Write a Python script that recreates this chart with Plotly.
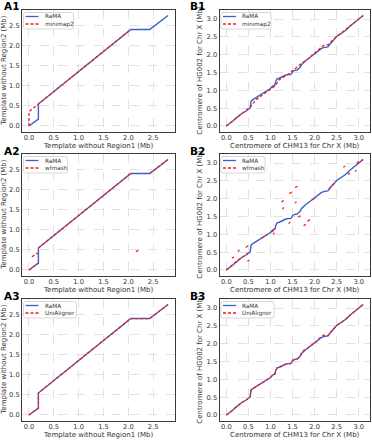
import plotly.graph_objects as go

# ---------------- data (Mb) ----------------
# A panels: template without Region1 (x) vs template without Region2 (y)
rama_a_x = [0.0, 0.19, 0.19, 2.05, 2.43, 2.80]
rama_a_y = [0.0, 0.17, 0.55, 2.41, 2.41, 2.76]

minimap2_a_x = [0.0, 0.0, 0.19, 2.05]
minimap2_a_y = [0.0, 0.36, 0.55, 2.41]

wfmash_a_x = [0.0, 0.19, None, 0.06, 0.185, None, 0.19, 2.05, None, 2.43, 2.80, None, 2.15, 2.24]
wfmash_a_y = [0.0, 0.17, None, 0.33, 0.43, None, 0.55, 2.41, None, 2.41, 2.76, None, 0.46, 0.51]

unialigner_a_x = [0.0, 0.19, 0.19, 2.05, 2.43, 2.80]
unialigner_a_y = [0.0, 0.17, 0.55, 2.41, 2.41, 2.76]

# B panels: centromere of CHM13 chrX (x) vs HG002 chrX (y)
rama_b_x = [0.0, 0.05, 0.10, 0.15, 0.20, 0.25, 0.30, 0.35, 0.40, 0.45, 0.50, 0.54, 0.55, 0.56,
            0.60, 0.65, 0.70, 0.80, 0.90, 1.00, 1.05, 1.10, 1.12, 1.15, 1.20, 1.25, 1.30, 1.35,
            1.40, 1.45, 1.48, 1.50, 1.55, 1.60, 1.65, 1.68, 1.70, 1.75, 1.80, 1.90, 2.00, 2.05,
            2.10, 2.15, 2.20, 2.25, 2.30, 2.35, 2.40, 2.45, 2.50, 2.55, 2.60, 2.70, 2.80, 2.90,
            3.00, 3.05, 3.10]
rama_b_y = [0.0, 0.04, 0.10, 0.14, 0.20, 0.26, 0.30, 0.35, 0.38, 0.42, 0.47, 0.50, 0.60, 0.70,
            0.74, 0.78, 0.82, 0.90, 0.98, 1.05, 1.12, 1.15, 1.25, 1.32, 1.34, 1.37, 1.41, 1.43,
            1.44, 1.44, 1.47, 1.53, 1.56, 1.57, 1.62, 1.66, 1.72, 1.79, 1.84, 1.93, 2.03, 2.07,
            2.14, 2.17, 2.20, 2.21, 2.22, 2.30, 2.36, 2.44, 2.51, 2.55, 2.59, 2.68, 2.80, 2.90,
            3.00, 3.05, 3.10]

minimap2_b_x = [0.0, 0.30, 0.50, 0.55, 0.60, 0.65, 1.00, 1.10, 1.20, 1.40, 1.60, 1.70, 1.75,
                1.80, 2.00, 2.10, 2.20, 2.30, 2.50, 2.80, 3.10]
minimap2_b_y = [0.0, 0.30, 0.49, 0.54, 0.62, 0.72, 1.03, 1.12, 1.30, 1.45, 1.65, 1.76, 1.80,
                1.83, 2.03, 2.15, 2.26, 2.28, 2.51, 2.81, 3.10]

wfmash_b_x = [0.0, 0.25, 0.50, None, 0.80, 0.92, None, 1.02, 1.12, None, 1.95, 2.05, None,
              2.32, 2.45, None, 2.95, 3.10, None, 0.13, 0.17, None, 0.26, 0.30, None, 0.44, 0.49,
              None, 0.48, 0.52, None, 1.06, 1.09, None, 1.25, 1.30, None, 1.27, 1.30, None,
              1.43, 1.48, None, 1.56, 1.61, None, 1.55, 1.59, None, 1.41, 1.45, None, 1.63, 1.68,
              None, 1.75, 1.80, None, 1.84, 1.90, None, 2.65, 2.69, None, 2.76, 2.80, None,
              2.92, 2.95]
wfmash_b_y = [0.0, 0.26, 0.48, None, 0.89, 0.99, None, 1.06, 1.16, None, 1.97, 2.06, None,
              2.27, 2.44, None, 3.00, 3.10, None, 0.33, 0.37, None, 0.52, 0.56, None, 0.63, 0.68,
              None, 0.24, 0.28, None, 1.00, 1.04, None, 1.91, 1.95, None, 1.71, 1.76, None,
              2.14, 2.19, None, 2.31, 2.35, None, 1.88, 1.91, None, 1.30, 1.35, None, 1.48, 1.52,
              None, 1.24, 1.28, None, 1.37, 1.42, None, 2.88, 2.92, None, 2.68, 2.72, None,
              2.76, 2.80]

unialigner_b_x = rama_b_x[:]
unialigner_b_y = [0.0, 0.04, 0.10, 0.14, 0.20, 0.26, 0.30, 0.35, 0.38, 0.42, 0.47, 0.50, 0.62, 0.70,
                  0.74, 0.78, 0.82, 0.90, 0.98, 1.05, 1.12, 1.15, 1.26, 1.32, 1.34, 1.37, 1.41, 1.43,
                  1.44, 1.44, 1.48, 1.53, 1.56, 1.57, 1.62, 1.66, 1.74, 1.81, 1.84, 1.93, 2.03, 2.07,
                  2.14, 2.18, 2.24, 2.23, 2.22, 2.30, 2.36, 2.44, 2.51, 2.55, 2.59, 2.68, 2.80, 2.90,
                  3.00, 3.05, 3.10]

ticks_a = [0.0, 0.5, 1.0, 1.5, 2.0, 2.5]
ticks_b = [0.0, 0.5, 1.0, 1.5, 2.0, 2.5, 3.0]

xtitle_a = "Template without Region1 (Mb)"
ytitle_a = "Template without Region2 (Mb)"
xtitle_b = "Centromere of CHM13 for Chr X (Mb)"
ytitle_b = "Centromere of HG002 for Chr X (Mb)"

# ---------------- layout helpers ----------------
W, H = 372, 440
def px(x):
    return x / W
def py(y):
    return 1 - y / H

BLUE = "#3a5fcd"
RED = "#f41d1d"
TXT = "#333333"
FONT = "DejaVu Sans"

cols = {"A": (22.0, 175.0), "B": (219.5, 370.0)}
row_tops = [10.0, 154.0, 299.0]
ROW_H = 121.5

panels = [
    ("A1", "A", 0, (rama_a_x, rama_a_y), (minimap2_a_x, minimap2_a_y), "minimap2"),
    ("B1", "B", 0, (rama_b_x, rama_b_y), (minimap2_b_x, minimap2_b_y), "minimap2"),
    ("A2", "A", 1, (rama_a_x, rama_a_y), (wfmash_a_x, wfmash_a_y), "wfmash"),
    ("B2", "B", 1, (rama_b_x, rama_b_y), (wfmash_b_x, wfmash_b_y), "wfmash"),
    ("A3", "A", 2, (rama_a_x, rama_a_y), (unialigner_a_x, unialigner_a_y), "UniAligner"),
    ("B3", "B", 2, (rama_b_x, rama_b_y), (unialigner_b_x, unialigner_b_y), "UniAligner"),
]

legend_w = {"minimap2": 50, "wfmash": 44, "UniAligner": 53}

fig = go.Figure()
layout = dict(
    width=W, height=H,
    margin=dict(l=0, r=0, t=0, b=0),
    paper_bgcolor="white", plot_bgcolor="white",
    showlegend=False,
    font=dict(family=FONT, color=TXT),
)
annotations = []
shapes = []

def rrect(x0, y0, x1, y1, r):
    X0, X1 = px(x0), px(x1)
    Y0, Y1 = py(y0), py(y1)
    rx, ry = r / W, r / H
    return (f"M {X0+rx},{Y0} L {X1-rx},{Y0} Q {X1},{Y0} {X1},{Y0-ry} "
            f"L {X1},{Y1+ry} Q {X1},{Y1} {X1-rx},{Y1} L {X0+rx},{Y1} "
            f"Q {X0},{Y1} {X0},{Y1+ry} L {X0},{Y0-ry} Q {X0},{Y0} {X0+rx},{Y0} Z")

TICK_FS = 6.7
TITLE_FS = 7.0
for i, (label, col, row, rama, other, oname) in enumerate(panels):
    n = "" if i == 0 else str(i + 1)
    L, R = cols[col]
    T = row_tops[row]
    B = T + ROW_H
    if col == "A":
        xr = [-0.14, 2.94]
        yr = [-0.138, 2.898]
        tv = ticks_a
        xt, yt = xtitle_a, ytitle_a
        ytx = 4.0
    else:
        xr = [-0.155, 3.255]
        yr = [-0.155, 3.255]
        tv = ticks_b
        xt, yt = xtitle_b, ytitle_b
        ytx = 200.0

    fig.add_trace(go.Scatter(x=rama[0], y=rama[1], mode="lines", name="RaMA",
                             line=dict(color=BLUE, width=1.4),
                             xaxis="x" + n, yaxis="y" + n, connectgaps=False))
    fig.add_trace(go.Scatter(x=other[0], y=other[1], mode="lines", name=oname,
                             line=dict(color=RED, width=1.3, dash="3px,2px"),
                             xaxis="x" + n, yaxis="y" + n, connectgaps=False))

    common = dict(showgrid=True, gridcolor="#e2e2e2", gridwidth=0.6, griddash="dash",
                  showline=True, mirror=True, linecolor="#3a3a3a", linewidth=0.8,
                  ticks="", tickfont=dict(size=TICK_FS, color=TXT, family=FONT), zeroline=False,
                  tickmode="array", tickvals=tv, ticktext=[f"{v:.1f}" for v in tv],
                  automargin=False, fixedrange=True)
    layout["xaxis" + n] = dict(domain=[px(L), px(R)], anchor="y" + n, range=xr, **common)
    layout["yaxis" + n] = dict(domain=[py(B), py(T)], anchor="x" + n, range=yr, **common)

    # axis titles
    annotations.append(dict(text=xt, x=px((L + R) / 2), y=py(B + 14.8), xref="paper", yref="paper",
                            showarrow=False, xanchor="center", yanchor="middle",
                            font=dict(size=TITLE_FS, color=TXT, family=FONT)))
    annotations.append(dict(text=yt, x=px(ytx), y=py((T + B) / 2), xref="paper", yref="paper",
                            showarrow=False, xanchor="center", yanchor="middle", textangle=-90,
                            font=dict(size=TITLE_FS, color=TXT, family=FONT)))
    # panel label
    lx = 2.0 if col == "A" else 188.0
    annotations.append(dict(text=f"<b>{label}</b>", x=px(lx), y=py(T - 3.5), xref="paper",
                            yref="paper", showarrow=False, xanchor="left", yanchor="middle",
                            font=dict(size=10.5, color="black", family=FONT)))

    # legend box
    bx0, by0 = L + 1.5, T + 2.5
    bx1, by1 = bx0 + legend_w[oname], T + 19.0
    shapes.append(dict(type="path", path=rrect(bx0, by0, bx1, by1, 2.0), xref="paper",
                       yref="paper", fillcolor="rgba(255,255,255,0.85)",
                       line=dict(color="#cfcfcf", width=0.8)))
    for k, (nm, colr, dsh) in enumerate([("RaMA", BLUE, "solid"), (oname, RED, "3px,2px")]):
        yy = T + 6.5 + k * 7.5
        shapes.append(dict(type="line", x0=px(L + 3.5), x1=px(L + 16.5), y0=py(yy), y1=py(yy),
                           xref="paper", yref="paper",
                           line=dict(color=colr, width=1.3, dash=dsh)))
        annotations.append(dict(text=nm, x=px(L + 20.5), y=py(yy), xref="paper", yref="paper",
                                showarrow=False, xanchor="left", yanchor="middle",
                                font=dict(size=5.7, color=TXT, family=FONT)))

layout["annotations"] = annotations
layout["shapes"] = shapes
fig.update_layout(**layout)

fig.write_html("out.html",
               config={"displayModeBar": False},
               post_script="document.body.style.margin='0px';document.body.style.padding='0px';"
                           "document.body.style.overflow='hidden';")
